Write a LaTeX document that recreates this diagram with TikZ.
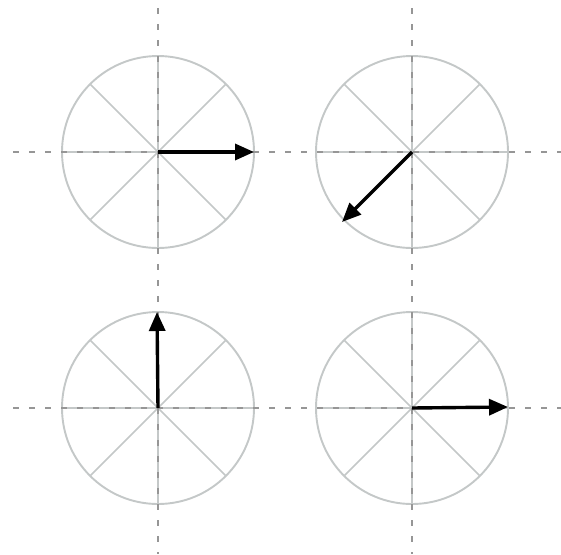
\documentclass[tikz,border=0pt]{standalone}
\usetikzlibrary{arrows.meta,calc}
\definecolor{circgray}{RGB}{196,200,200}
\definecolor{axisgray}{RGB}{150,150,150}
\begin{document}
\begin{tikzpicture}[x=1pt,y=-1pt,
  wheel/.style={draw=circgray,line width=1.9pt},
  spoke/.style={draw=circgray,line width=1.6pt},
  axis/.style={draw=axisgray,line width=1.7pt,dash pattern=on 6pt off 10pt},
  vec/.style={draw=black,line width=3.4pt,-{Triangle[length=19pt,width=16pt]},shorten >=0pt}]
\useasboundingbox (0,0) rectangle (561,554);
\fill[white] (0,0) rectangle (561,554);
% centers
\coordinate (c1) at (158,152);
\coordinate (c2) at (412,152);
\coordinate (c3) at (158,408);
\coordinate (c4) at (412,408);
% axis ends
\coordinate (hl1) at (13,152);
\coordinate (hr1) at (561,152);
\coordinate (hl2) at (13,408);
\coordinate (hr2) at (561,408);
\coordinate (vt1) at (158,8);
\coordinate (vb1) at (158,554);
\coordinate (vt2) at (412,8);
\coordinate (vb2) at (412,554);
% wheels
\foreach \c in {c1,c2,c3,c4}{
  \draw[wheel] (\c) circle[radius=96];
  \foreach \a in {0,45,...,315}{
    \draw[spoke] (\c) -- ($(\c)+(\a:96)$);
  }
}
% dashed axes
\draw[axis] (hl1) -- (hr1);
\draw[axis] (hl2) -- (hr2);
\draw[axis] (vt1) -- (vb1);
\draw[axis] (vt2) -- (vb2);
% vectors
\coordinate (t1) at (254,152);
\coordinate (t2) at (342,222);
\coordinate (t3) at (157,312);
\coordinate (t4) at (508,407);
\draw[vec] (c1) -- (t1);
\draw[vec] (c2) -- (t2);
\draw[vec] (c3) -- (t3);
\draw[vec] (c4) -- (t4);
\end{tikzpicture}
\end{document}
